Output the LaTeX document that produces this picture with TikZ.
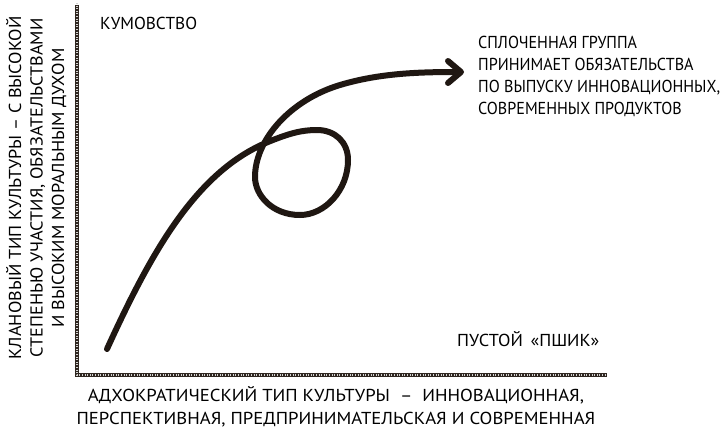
\documentclass[tikz,border=0pt]{standalone}
\usepackage{fontspec}
\setmainfont{PT Sans}
\newfontfamily\widefam[FakeStretch=1.08]{PT Sans}
\newfontfamily\midfam[FakeStretch=1.05]{PT Sans}
\newfontfamily\tightfam[FakeStretch=0.93]{PT Sans}
\usetikzlibrary{arrows.meta}
\definecolor{ink}{HTML}{1F1712}
\definecolor{rope}{HTML}{2E2620}
\begin{document}
\begin{tikzpicture}[x=1pt,y=-1pt,
  lbl/.style={font=\fontsize{17.3}{22.5}\selectfont, inner sep=0pt, text=black},
  axisline/.style={line width=4pt, draw=rope, line cap=butt},
  axishatch/.style={line width=2pt, draw=white!80!rope, dash pattern=on 1pt off 1.6pt},
  curveline/.style={line width=6pt, draw=ink, line cap=round, line join=round}]
\useasboundingbox (0,0) rectangle (725,437);
\fill[white] (0,0) rectangle (725,437);
% axes
\coordinate (ytop) at (77,5);
\coordinate (orig) at (77,375);
\coordinate (xend) at (607,375);
\draw[axisline] (ytop) -- (orig) -- (xend);
\draw[axishatch] ([yshift=2pt]ytop) -- (orig) -- ([xshift=-2pt]xend);
% curve
\coordinate (cstart) at (107,349);
\coordinate (ccross) at (268,142);
\coordinate (ltop) at (317,130);
\coordinate (lright) at (348,160);
\coordinate (lbottom) at (300,215);
\coordinate (lleft) at (255,177);
\coordinate (cmid) at (340,85);
\coordinate (ctip) at (464,72);
\draw[curveline, -{Straight Barb[length=13pt,width=22pt,round]}]
  (cstart) .. controls (150,255) and (195,172) .. (ccross)
  .. controls (290,133) and (302,130) .. (ltop)
  .. controls (335,130) and (348,142) .. (lright)
  .. controls (348,190) and (325,215) .. (lbottom)
  .. controls (272,215) and (255,195) .. (lleft)
  .. controls (255,140) and (290,100) .. (cmid)
  .. controls (380,73) and (420,72) .. (ctip);
% labels
\node[lbl, anchor=base west] (kum) at (100,29) {КУМОВСТВО};
\node[lbl, anchor=base west, align=left, font=\fontsize{17.3}{22}\selectfont\tightfam] (grp) at (478,114) {СПЛОЧЕННАЯ ГРУППА\\ПРИНИМАЕТ ОБЯЗАТЕЛЬСТВА\\ПО ВЫПУСКУ ИННОВАЦИОННЫХ,\\СОВРЕМЕННЫХ ПРОДУКТОВ};
\node[lbl, anchor=base west, font=\fontsize{17.3}{22}\selectfont\midfam] (pshik) at (457,346) {ПУСТОЙ \,«ПШИК»};
\node[lbl, align=center, anchor=base, font=\fontsize{17.3}{23}\selectfont\widefam] (xlab) at (336,424) {АДХОКРАТИЧЕСКИЙ ТИП КУЛЬТУРЫ \ – \ ИННОВАЦИОННАЯ,\\ПЕРСПЕКТИВНАЯ, ПРЕДПРИНИМАТЕЛЬСКАЯ И СОВРЕМЕННАЯ};
\node[lbl, align=center, rotate=90, anchor=base, font=\fontsize{17.3}{21.5}\selectfont\midfam] (ylab) at (64,188) {КЛАНОВЫЙ ТИП КУЛЬТУРЫ – С ВЫСОКОЙ\\СТЕПЕНЬЮ УЧАСТИЯ, ОБЯЗАТЕЛЬСТВАМИ\\И ВЫСОКИМ МОРАЛЬНЫМ ДУХОМ};
\end{tikzpicture}
\end{document}
